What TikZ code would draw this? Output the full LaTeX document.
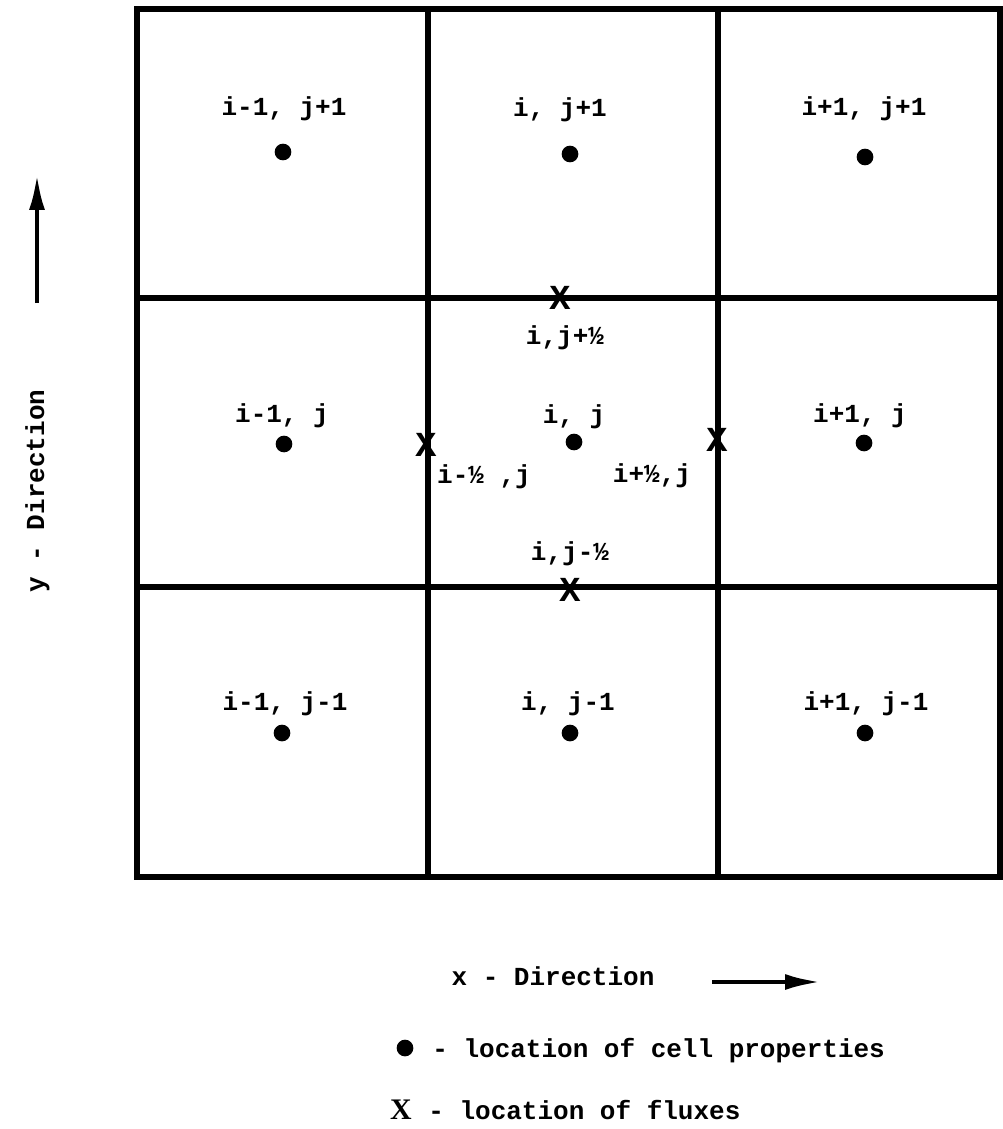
\documentclass[tikz,border=0pt]{standalone}
\usepackage{fontspec}
\setmainfont{Liberation Mono}
\newfontfamily\keyfont{Liberation Serif}
\usetikzlibrary{arrows.meta,positioning}
\tikzset{wall/.style={line width=3pt,line cap=rect},
cellpt/.style={circle,fill=black,inner sep=0pt,minimum size=9.5pt},
lab/.style={font=\bfseries\fontsize{14.8}{17}\selectfont,inner sep=0pt,anchor=base},
flux/.style={font=\bfseries\fontsize{20}{20}\selectfont,inner sep=0pt},
dirarrow/.style={-{Latex[length=21pt,width=9pt]},line width=2.8pt}}

\begin{document}
\begin{tikzpicture}[x=0.02cm,y=-0.02cm]
\useasboundingbox (0,0) rectangle (1003,1129);
% grid of cells
\draw[wall] (137,9) rectangle (1000,877);
\foreach \x in {428,718}
 {\draw[wall] (\x,9)--(\x,877);}
\foreach \y in {298,587}
 {\draw[wall] (137,\y)--(1000,\y);}
% cell centres
\foreach \n/\x/\y/\lx/\ly/\t in {
 a/283/152/284/115/{i-1, j+1}, b/570/154/560/116/{i, j+1}, c/865/157/864/115/{i+1, j+1},
 d/284/444/282/422/{i-1, j}, e/574/442/574/423/{i, j}, f/864/443/860/422/{i+1, j},
 g/282/733/285/710/{i-1, j-1}, h/570/733/568/710/{i, j-1}, k/865/733/866/710/{i+1, j-1}}
 {\node[cellpt] (c\n) at (\x,\y) {};
  \node[lab] (l\n) at (\lx,\ly) {\t};}
% fluxes on the faces
\foreach \n/\x/\y/\lx/\ly/\t in {
 n/560/298/565/344/{i,j+½}, w/426/445/484/483/{i-½ ,j},
 e/717/440/652/482/{i+½,j}, s/570/590/570/560/{i,j-½}}
 {\node[flux] (f\n) at (\x,\y) {X};
  \node[lab] (fl\n) at (\lx,\ly) {\t};}
% directions
\node[lab,rotate=90] (ylab) at (44,491) {y - Direction};
\coordinate (ytail) at (37,303);
\coordinate (ytip) at (37,173);
\draw[dirarrow] (ytail)--(ytip);
\node[lab] (xlab) at (553,985) {x - Direction};
\coordinate (xtail) at (712,982);
\coordinate (xtip) at (822,982);
\draw[dirarrow] (xtail)--(xtip);
% key
\node[cellpt] (keydot) at (405,1048) {};
\node[lab,anchor=base west] (keydotlab) at (432,1057) {- location of cell properties};
\node[font=\keyfont\bfseries\fontsize{17}{17}\selectfont,inner sep=0pt,anchor=base] (keyx) at (401,1119) {X};
\node[lab,anchor=base west] (keyxlab) at (428,1119) {- location of fluxes};
\end{tikzpicture}
\end{document}
